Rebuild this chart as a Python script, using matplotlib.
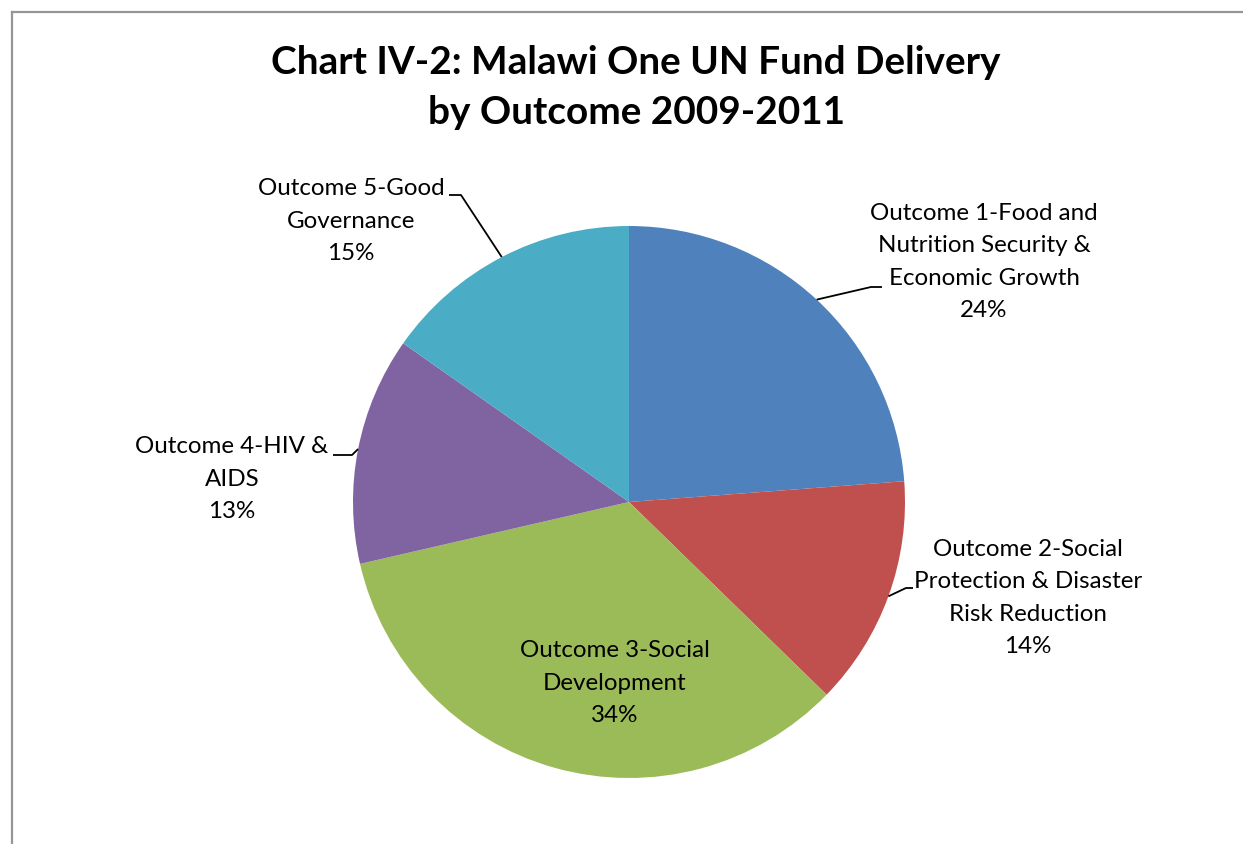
import numpy as np
import matplotlib
matplotlib.use("Agg")
import matplotlib.pyplot as plt
from matplotlib.lines import Line2D

plt.rcParams['font.family'] = ['Lato', 'DejaVu Sans']

labels = ["Outcome 1-Food and\nNutrition Security &\nEconomic Growth",
          "Outcome 2-Social\nProtection & Disaster\nRisk Reduction",
          "Outcome 3-Social\nDevelopment",
          "Outcome 4-HIV &\nAIDS",
          "Outcome 5-Good\nGovernance"]
shares = [23.8, 13.5, 34.1, 13.35, 15.25]
pct_labels = ["24%", "14%", "34%", "13%", "15%"]
colors = ["#4F81BD", "#C0504D", "#9BBB59", "#8064A2", "#4BACC6"]

W, H = 1243, 844
fig = plt.figure(figsize=(W / 100, H / 100), dpi=100)
ax = fig.add_axes([0, 0, 1, 1])

cx, cy, r = 629, H - 502, 276
wedges, _ = ax.pie(shares, colors=colors, startangle=90, counterclock=False,
                   radius=r, center=(cx, cy), frame=True,
                   wedgeprops=dict(linewidth=0))
ax.set_xlim(0, W)
ax.set_ylim(0, H)
ax.set_aspect("equal")
ax.axis("off")

# label centres (pixels from top) and leader elbows
label_pos = [(984, 262), (1028, 598), (615, 683), (232, 479), (351, 221)]
elbows = [((871, 287), (882, 287)),
          ((906, 588), (913, 588)),
          None,
          ((352, 455), (333, 455)),
          ((461, 195), (449, 195))]

for i, w in enumerate(wedges):
    txt = labels[i] + "\n" + pct_labels[i]
    lx, ly = label_pos[i]
    ax.text(lx, H - ly, txt, ha="center", va="center", fontsize=17.4,
            linespacing=1.68, color="black")
    if elbows[i] is None:
        continue
    ang = np.deg2rad((w.theta1 + w.theta2) / 2)
    ex, ey = cx + r * np.cos(ang), cy + r * np.sin(ang)
    (bx, by), (tx, ty) = elbows[i]
    ax.plot([ex, bx, tx], [ey, H - by, H - ty], color="black", lw=1.3,
            solid_capstyle="butt")

fig.text(636 / W, 1 - 63 / H, "Chart IV-2: Malawi One UN Fund Delivery",
         ha="center", va="center", fontsize=27.9, fontweight="bold")
fig.text(636 / W, 1 - 112 / H, "by Outcome 2009-2011",
         ha="center", va="center", fontsize=27.9, fontweight="bold")

# chart frame (only top and left edges visible in the crop)
fig.add_artist(Line2D([12 / W, 12 / W], [0, 1 - 12 / H], color="#969696", lw=1.6))
fig.add_artist(Line2D([12 / W, 1], [1 - 12 / H, 1 - 12 / H], color="#969696", lw=1.6))

fig.savefig("out.png", dpi=100)
